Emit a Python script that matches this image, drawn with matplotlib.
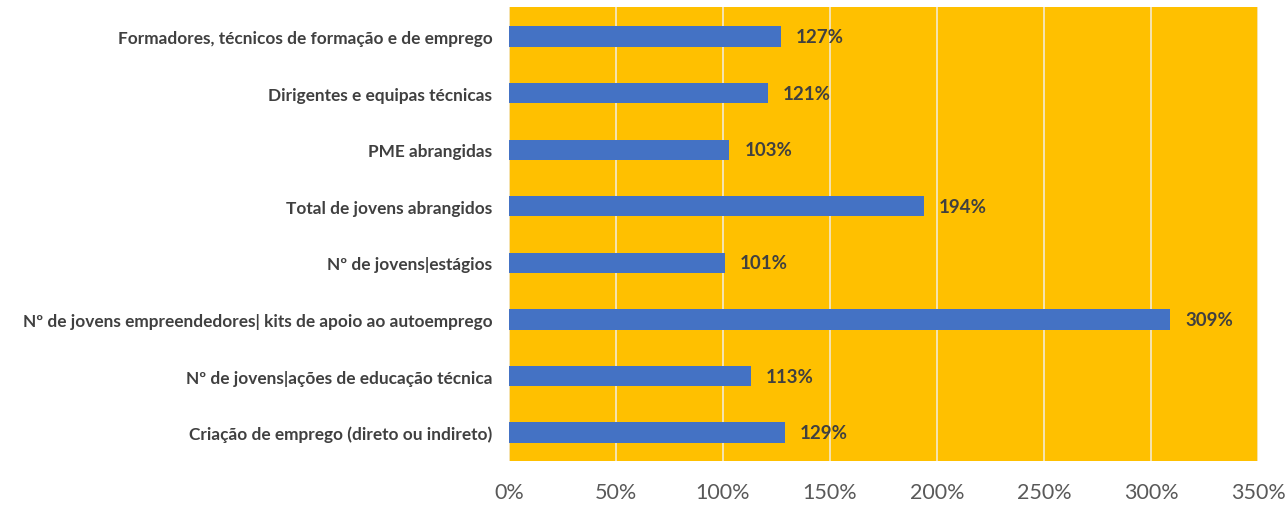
import matplotlib
matplotlib.use("Agg")
import matplotlib.pyplot as plt
from matplotlib.ticker import FuncFormatter

# data, top to bottom as in the chart
categories = [
    "Formadores, técnicos de formação e de emprego",
    "Dirigentes e equipas técnicas",
    "PME abrangidas",
    "Total de jovens abrangidos",
    "Nº de jovens|estágios",
    "Nº de jovens empreendedores| kits de apoio ao autoemprego",
    "Nº de jovens|ações de educação técnica",
    "Criação de emprego (direto ou indireto)",
]
values = [127, 121, 103, 194, 101, 309, 113, 129]
x_ticks = [0, 50, 100, 150, 200, 250, 300, 350]

plt.rcParams['font.family'] = ['Lato', 'DejaVu Sans']

fig = plt.figure(figsize=(12.87, 5.06), dpi=100)
ax = fig.add_axes([0.3955, 0.087, 0.582, 0.897])
ax.set_facecolor("#FFC000")

pos = list(range(len(categories)))[::-1]
ax.barh(pos, values, height=0.36, color="#4472C4", zorder=3)

for y, v in zip(pos, values):
    ax.text(v + 7, y, f"{v}%", va="center", ha="left", fontsize=13.5,
            fontweight="bold", color="#404040", zorder=4)

ax.set_xlim(0, 350)
ax.set_ylim(-0.5, 7.52)
ax.set_xticks(x_ticks)
ax.xaxis.set_major_formatter(FuncFormatter(lambda x, p: f"{int(x)}%"))
ax.set_yticks(pos)
ax.set_yticklabels(categories, fontsize=12.4, fontweight="bold", color="#404040")
ax.tick_params(axis="x", labelsize=15.5, colors="#595959", length=0, pad=15)
ax.tick_params(axis="y", length=0, pad=12)
ax.grid(axis="x", color="#F5E6C0", linewidth=1.3, zorder=1)
for s in ax.spines.values():
    s.set_visible(False)

fig.savefig("out.png", dpi=100)
